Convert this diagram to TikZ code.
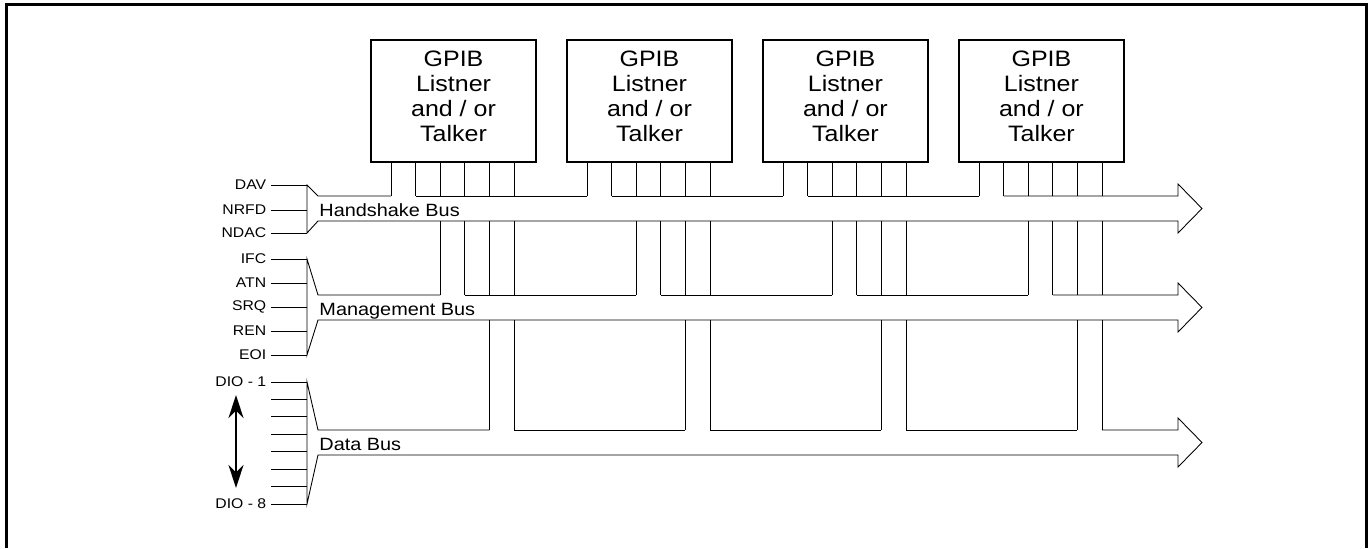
\documentclass[tikz,border=0pt]{standalone}
\usepackage{fontspec}
\setmainfont[FakeStretch=1.12]{Liberation Sans}
\usetikzlibrary{arrows.meta,positioning}

\begin{document}
\begin{tikzpicture}[
    x=0.02cm, y=-0.02cm, line width=0.5pt,
    dev/.style={draw, line width=1pt, align=center, minimum width=3.3cm, minimum height=2.44cm, text depth=5pt, font=\fontsize{12.7}{14.2}\selectfont},
    sig/.style={anchor=east, inner sep=2.5pt, font=\fontsize{8}{9}\selectfont},
    buslabel/.style={anchor=base west, inner sep=0pt, font=\fontsize{10.1}{12}\selectfont}
]
\useasboundingbox (0,0) rectangle (1368,548);
\draw[line width=1.7pt] (6.5,548) -- (6.5,4.5) -- (1366.5,4.5) -- (1366.5,548);

\node[dev] (d1) at (453.5,101) {GPIB\\Listner\\and / or\\Talker};
\node[dev, right=0.585cm of d1] (d2) {GPIB\\Listner\\and / or\\Talker};
\node[dev, right=0.585cm of d2] (d3) {GPIB\\Listner\\and / or\\Talker};
\node[dev, right=0.585cm of d3] (d4) {GPIB\\Listner\\and / or\\Talker};

% legs down to the buses
\foreach \k in {1,...,4}
  \foreach \j in {0,...,5} {
    \coordinate (l\k\j) at ([xshift=0.42cm+\j*0.492cm]d\k.south west);
    \draw (l\k\j) -- (l\k\j |- 0,196);
    \ifnum\j>1 \draw (l\k\j |- 0,221) -- (l\k\j |- 0,295); \fi
    \ifnum\j>3 \draw (l\k\j |- 0,320) -- (l\k\j |- 0,430); \fi
  }

% buses
\foreach \t/\f/\e/\a/\c/\txt in {196/185/233/0/1/Handshake Bus, 295/259/355/2/3/Management Bus, 430/382/504/4/5/Data Bus} {
  \draw (l4\c |- 0,\t) -- (1178,\t) -- (1178,\t-12) -- (1202,\t+12.5) -- (1178,\t+37) -- (1178,\t+25)
    -- (318,\t+25) -- (307,\e) -- (307,\f) -- (318,\t) -- (l1\a |- 0,\t);
  \foreach \k [evaluate=\k as \n using int(\k+1)] in {1,2,3}
    \draw (l\k\c |- 0,\t) -- (l\n\a |- 0,\t);
  \node[buslabel] (b\a) at (319,\t+20.7) {\txt};
}

% signal lines
\coordinate (trunk) at (307,0);
\foreach \y/\s [count=\i] in {185/DAV, 210/NRFD, 233/NDAC, 259/IFC, 283/ATN, 307/SRQ, 331/REN, 355/EOI} {
  \node[sig] (s\i) at (271,\y) {\s};
  \draw (s\i.east) -- (s\i.east -| trunk);
}
\foreach \i in {0,...,7} {
  \node[sig] (io\i) at (271,382+17.43*\i) {\ifnum\i=0 DIO - 1\fi\ifnum\i=7 DIO - 8\fi};
  \draw (io\i.east) -- (io\i.east -| trunk);
}

\coordinate (up) at (236,395);
\coordinate (dn) at (236,488);
\draw[{Stealth[length=0.46cm,width=0.3cm]}-{Stealth[length=0.46cm,width=0.3cm]}, line width=1pt] (up) -- (dn);
\end{tikzpicture}
\end{document}
